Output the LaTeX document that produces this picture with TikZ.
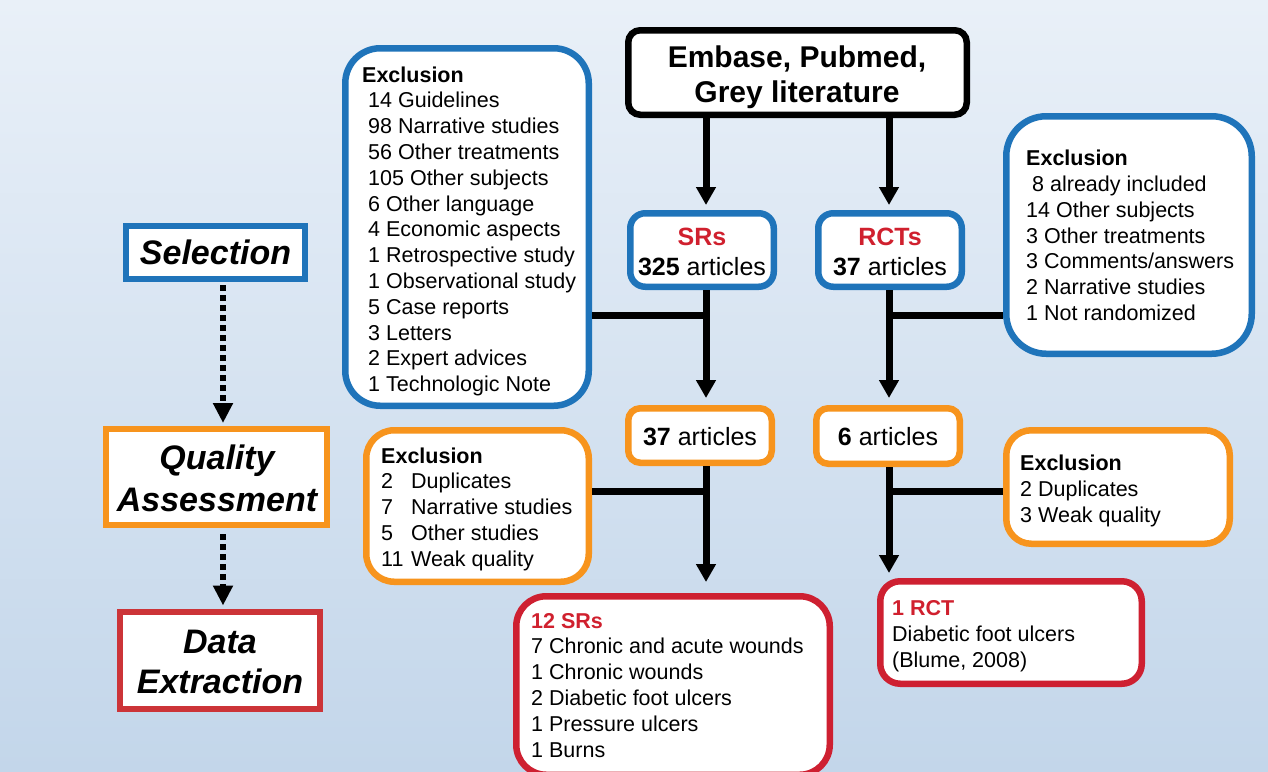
\documentclass[tikz,border=0pt]{standalone}
\usepackage{fontspec}
\setmainfont{Liberation Sans}
\usetikzlibrary{arrows.meta}
\definecolor{bgtop}{HTML}{E9F0F8}
\definecolor{bgbot}{HTML}{C3D6EA}
\definecolor{blueB}{HTML}{1F74BA}
\definecolor{orangeB}{HTML}{F7941D}
\definecolor{redB}{HTML}{CE2031}
\definecolor{redT}{HTML}{D0202E}
\definecolor{redD}{HTML}{CC3438}
\begin{document}
\begin{tikzpicture}[x=1pt,y=-1pt,
  box/.style={draw, fill=white, line width=6.5pt, inner sep=0pt},
  conn/.style={line width=7pt, black},
  arr/.style={conn, -{Triangle[length=18pt,width=19pt]}},
  dotarr/.style={line width=6.5pt, black, dash pattern=on 6pt off 4pt, -{Triangle[length=20pt,width=19pt]}},
  txt/.style={inner sep=0pt, anchor=base west, align=left, font=\fontsize{21.5}{25.8}\selectfont},
  ctxt/.style={inner sep=0pt, anchor=base, align=center},
  mid/.style={ctxt, font=\fontsize{25}{30}\selectfont},
  side/.style={ctxt, font=\fontsize{34}{41}\selectfont\bfseries\itshape}
]
\clip (0,0) rectangle (1268,771);
\shade[top color=bgtop, bottom color=bgbot] (0,0) rectangle (1268,771);

% boxes
\node[box, draw=black, rounded corners=12pt, minimum width=338.5pt, minimum height=84.5pt] (emb) at (797.5,72.5) {};
\node[box, draw=blueB, rounded corners=15pt, minimum width=143.5pt, minimum height=73.5pt] (srs) at (702,250) {};
\node[box, draw=blueB, rounded corners=15pt, minimum width=143.5pt, minimum height=73.5pt] (rct) at (890,250) {};
\node[box, draw=blueB, rounded corners=35pt, minimum width=243.5pt, minimum height=357.5pt] (exL) at (467,227) {};
\node[box, draw=blueB, rounded corners=40pt, minimum width=245.5pt, minimum height=237.5pt] (exR) at (1129,235) {};
\node[box, draw=orangeB, rounded corners=12pt, minimum width=143.5pt, minimum height=54.5pt] (a37) at (700,435.5) {};
\node[box, draw=orangeB, rounded corners=12pt, minimum width=143.5pt, minimum height=55.5pt] (a6) at (888,436) {};
\node[box, draw=orangeB, rounded corners=28pt, minimum width=222.5pt, minimum height=151.5pt] (exLo) at (477.5,506) {};
\node[box, draw=orangeB, rounded corners=25pt, minimum width=223.5pt, minimum height=113.5pt] (exRo) at (1118,487) {};
\node[box, draw=redB, rounded corners=30pt, minimum width=313.5pt, minimum height=178.5pt] (srfin) at (673,685.5) {};
\node[box, draw=redB, rounded corners=20pt, minimum width=261.5pt, minimum height=102.5pt] (rctfin) at (1011,632.5) {};
\node[box, draw=blueB, line width=6pt, minimum width=179pt, minimum height=53pt] (sel) at (215.5,252.5) {};
\node[box, draw=orangeB, line width=6pt, minimum width=221pt, minimum height=96pt] (qa) at (216.5,477) {};
\node[box, draw=redD, line width=6pt, minimum width=200pt, minimum height=97pt] (de) at (220,660) {};

% texts (base anchor = baseline of the last line)
\node[ctxt, font=\fontsize{30}{35}\selectfont\bfseries] (embt) at (797,102) {Embase, Pubmed,\\Grey literature};
\node[mid] (srst) at (702,275) {{\color{redT}\textbf{SRs}}\\\textbf{325} articles};
\node[mid] (rctt) at (890,275) {{\color{redT}\textbf{RCTs}}\\\textbf{37} articles};
\node[mid] (a37t) at (700,445) {\textbf{37} articles};
\node[mid] (a6t) at (888,445) {\textbf{6} articles};
\node[side] (selt) at (215.5,264) {Selection};
\node[side, font=\fontsize{34}{42}\selectfont\bfseries\itshape] (qat) at (217,511) {Quality\\Assessment};
\node[side, font=\fontsize{34}{40}\selectfont\bfseries\itshape] (det) at (220,693) {Data\\Extraction};

\node[txt] (exLt) at (362,391.6) {\textbf{Exclusion}\\
\hspace*{6pt}14 Guidelines\\
\hspace*{6pt}98 Narrative studies\\
\hspace*{6pt}56 Other treatments\\
\hspace*{6pt}105 Other subjects\\
\hspace*{6pt}6 Other language\\
\hspace*{6pt}4 Economic aspects\\
\hspace*{6pt}1 Retrospective study\\
\hspace*{6pt}1 Observational study\\
\hspace*{6pt}5 Case reports\\
\hspace*{6pt}3 Letters\\
\hspace*{6pt}2 Expert advices\\
\hspace*{6pt}1 Technologic Note};
\node[txt] (exRt) at (1026,320.5) {\textbf{Exclusion}\\
\hspace*{6pt}8 already included\\
14 Other subjects\\
3 Other treatments\\
3 Comments/answers\\
2 Narrative studies\\
1 Not randomized};
\node[txt] (exLot) at (381,566.2) {\textbf{Exclusion}\\
\makebox[29.9pt][l]{2}Duplicates\\
\makebox[29.9pt][l]{7}Narrative studies\\
\makebox[29.9pt][l]{5}Other studies\\
\makebox[29.9pt][l]{11}Weak quality};
\node[txt] (exRot) at (1020,522) {\textbf{Exclusion}\\
2 Duplicates\\
3 Weak quality};
\node[txt] (srfint) at (531,757) {{\color{redT}\textbf{12 SRs}}\\
7 Chronic and acute wounds\\
1 Chronic wounds\\
2 Diabetic foot ulcers\\
1 Pressure ulcers\\
1 Burns};
\node[txt] (rctfint) at (892,667) {{\color{redT}\textbf{1 RCT}}\\
Diabetic foot ulcers\\
(Blume, 2008)};

% connectors
\coordinate (cl) at (706,0);
\coordinate (cr) at (889,0);
\coordinate (j1) at (706,315);
\coordinate (j2) at (889,315);
\coordinate (j3) at (706,491);
\coordinate (j4) at (889,491);
\coordinate (dx) at (223,0);

\draw[arr, shorten >=5pt] (emb.south -| cl) -- (srs.north -| cl);
\draw[arr, shorten >=5pt] (emb.south -| cr) -- (rct.north -| cr);
\draw[arr, shorten >=7pt] (srs.south -| cl) -- (a37.north -| cl);
\draw[arr, shorten >=7pt] (rct.south -| cr) -- (a6.north -| cr);
\draw[conn] (exL.east |- j1) -- (j1);
\draw[conn] (exR.west |- j2) -- (j2);
\draw[arr, shorten >=11pt] (a37.south -| cl) -- (srfin.north -| cl);
\draw[arr, shorten >=5pt] (a6.south -| cr) -- (rctfin.north -| cr);
\draw[conn] (exLo.east |- j3) -- (j3);
\draw[conn] (exRo.west |- j4) -- (j4);

\draw[dotarr, shorten <=3pt, shorten >=3pt] (sel.south -| dx) -- (qa.north -| dx);
\draw[dotarr, shorten <=6pt, shorten >=3pt] (qa.south -| dx) -- (de.north -| dx);
\end{tikzpicture}
\end{document}
